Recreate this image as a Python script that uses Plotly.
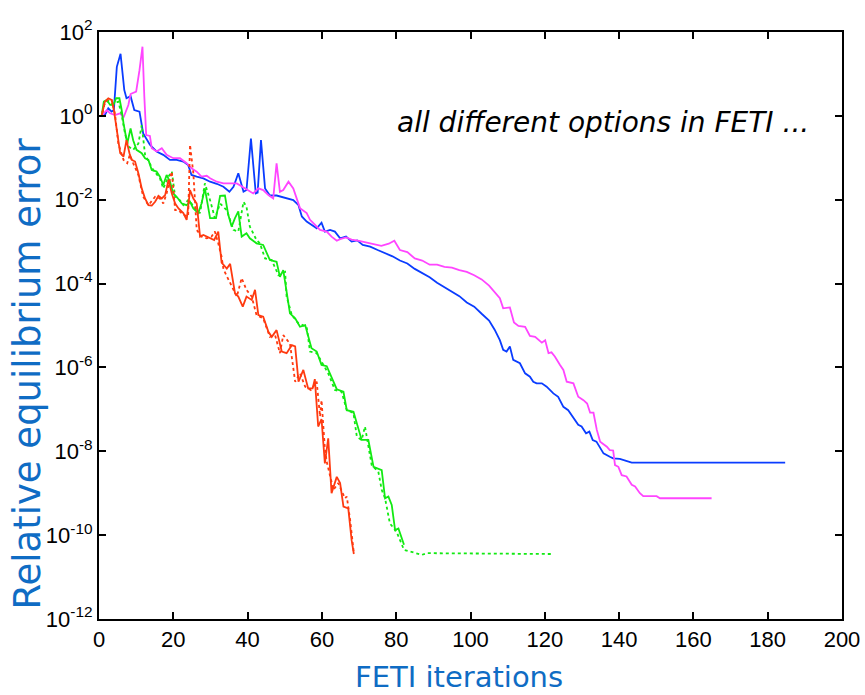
import plotly.graph_objects as go

# FETI convergence histories: iteration number and log10 of the relative equilibrium error
blue_it = [0, 0.7, 1.6, 2.5, 3.4, 4.0, 4.8, 5.8, 6.8, 7.4, 8.5, 9.5, 10.9, 11.9, 13.7, 15.5, 17.3, 19.1,
           20.9, 22.7, 24.0, 24.9, 26.3, 28.1, 29.9, 31.7, 33.5, 35.1, 36.2, 37.5, 38.9, 39.7, 40.9, 42.2,
           42.7, 43.6, 44.7, 46.0, 47.8, 50.5, 52.3, 53.7, 54.6, 55.9, 57.2, 58.6, 59.9, 60.8, 62.2, 63.5,
           64.9, 66.5, 68, 69.5, 71, 73, 75, 77, 79, 81, 83, 85, 87, 89, 91, 93, 95, 97, 99, 101, 103, 105,
           106.5, 107.9, 108.8, 109.7, 110.6, 111.5, 113.3, 114.7, 116.0, 116.9, 117.8, 119.2, 120.5, 121.4,
           122.3, 123.6, 125.0, 126.3, 127.2, 128.1, 129.0, 129.9, 131.1, 132.0, 132.9, 133.9, 134.9, 135.8,
           137.5, 138.4, 140.2, 142.0, 143.4, 184.7]
blue_exp = [0, 0.0, 0.02, 0.18, 0.1, 0.14, 1.17, 1.48, 0.62, 0.42, 0.47, 0.14, 0.10, -0.42, -0.69, -0.85,
            -0.93, -1.05, -1.05, -1.09, -1.17, -1.41, -1.45, -1.49, -1.57, -1.62, -1.69, -1.81, -1.69, -1.37,
            -1.81, -1.77, -0.54, -1.85, -1.83, -0.58, -1.73, -1.90, -1.90, -1.97, -2.01, -2.13, -2.40, -2.52,
            -2.60, -2.68, -2.55, -2.76, -2.72, -2.76, -2.92, -2.88, -3.0, -2.97, -3.08, -3.12, -3.2, -3.28,
            -3.35, -3.45, -3.52, -3.65, -3.75, -3.85, -3.98, -4.08, -4.2, -4.3, -4.45, -4.55, -4.72, -4.88,
            -5.1, -5.35, -5.58, -5.62, -5.50, -5.82, -5.90, -6.14, -6.22, -6.34, -6.38, -6.38, -6.46, -6.54,
            -6.62, -6.70, -6.94, -7.02, -7.13, -7.25, -7.37, -7.41, -7.57, -7.53, -7.73, -7.77, -7.93, -8.05,
            -8.13, -8.17, -8.18, -8.23, -8.27, -8.27]

magenta_it = [0, 0.7, 2.1, 3.0, 4.3, 5.7, 6.6, 7.9, 8.5, 10.0, 10.9, 11.7, 12.2, 12.7, 13.7, 14.2, 15.5,
              16.9, 18.2, 20.0, 21.8, 23.6, 24.9, 26.3, 27.6, 29.0, 29.9, 31.7, 33.5, 35.3, 37.1, 39.7, 41.5,
              42.9, 44.2, 45.6, 46.9, 47.8, 48.7, 49.6, 51.0, 52.3, 54.1, 55.9, 56.8, 57.7, 59.5, 61.3, 62.6,
              64.0, 64.9, 66.5, 68, 70, 72, 74, 76, 78, 79.5, 81, 83, 85, 87, 89, 91, 93, 95, 97, 99, 101,
              103, 105, 106.5, 107.9, 108.8, 110.6, 111.7, 112.9, 114.7, 116.0, 117.4, 119.2, 120.1, 121.0,
              121.8, 122.7, 124.1, 125.0, 125.9, 127.7, 129.0, 130.4, 131.4, 132.2, 133.1, 134.0, 134.9,
              136.7, 137.5, 138.4, 138.9, 139.8, 140.7, 142.0, 143.4, 144.3, 145.6, 146.5, 150.1, 151.0, 164.9]
magenta_exp = [0, 0.0, 0.14, 0.06, 0.02, 0.06, -0.04, 0.26, 0.52, 0.58, 1.09, 1.65, 0.46, -0.46, -0.48,
               -0.77, -0.85, -0.77, -0.93, -1.01, -1.01, -1.13, -1.25, -1.33, -1.45, -1.43, -1.49, -1.57,
               -1.61, -1.61, -1.61, -1.75, -1.85, -1.73, -1.77, -1.89, -1.97, -1.13, -1.81, -1.77, -1.57,
               -1.73, -2.20, -2.32, -2.48, -2.56, -2.72, -2.76, -2.88, -2.98, -2.94, -2.9, -2.95, -2.98,
               -3.02, -3.05, -3.1, -3.05, -2.98, -3.2, -3.25, -3.4, -3.45, -3.55, -3.55, -3.6, -3.62, -3.68,
               -3.72, -3.8, -3.9, -4.05, -4.2, -4.35, -4.59, -4.57, -4.93, -5.01, -5.03, -5.25, -5.27, -5.41,
               -5.35, -5.66, -5.64, -5.74, -5.94, -6.06, -6.34, -6.38, -6.70, -6.78, -6.86, -7.08, -7.08,
               -7.49, -7.77, -7.89, -7.97, -7.98, -8.33, -8.37, -8.57, -8.60, -8.80, -8.84, -9.0, -9.07,
               -9.07, -9.12, -9.12]

green_it = [0, 0.7, 1.3, 2.1, 3.0, 3.9, 4.6, 5.5, 6.1, 6.6, 7.6, 8.5, 9.2, 10.1, 11.5, 12.4, 13.3, 14.2,
            15.5, 16.4, 17.3, 18.2, 19.1, 20.0, 20.9, 22.3, 23.6, 24.5, 25.4, 26.7, 27.6, 28.5, 29.9, 31.5,
            32.6, 33.9, 34.8, 35.7, 36.6, 37.5, 38.4, 39.7, 40.6, 42.4, 44.2, 46.0, 47.8, 48.7, 49.6, 51.4,
            52.8, 54.1, 55.5, 57.2, 58.6, 59.9, 61.3, 62.6, 64.0, 65.8, 66.7, 68.5, 70.7, 72.5, 73.9, 76.1,
            77.0, 77.9, 78.8, 79.7, 80.6, 82.1]
green_exp = [0, 0.0, 0.34, 0.38, 0.26, 0.26, 0.42, 0.42, 0.14, -0.18, -0.66, -0.30, -0.58, -0.81, -0.89,
             -1.01, -1.05, -1.29, -1.33, -1.45, -1.65, -1.41, -1.57, -1.85, -1.93, -2.09, -2.13, -2.05, -2.21,
             -2.32, -2.09, -1.73, -2.44, -2.44, -1.91, -1.90, -2.36, -2.64, -2.44, -2.28, -2.88, -2.80, -2.92,
             -3.04, -3.08, -3.44, -3.48, -3.84, -3.68, -4.71, -4.83, -5.03, -4.99, -5.54, -5.62, -5.94, -5.97,
             -6.22, -6.52, -6.58, -7.02, -7.06, -7.73, -7.73, -8.37, -8.45, -9.12, -9.08, -9.28, -9.88, -9.84,
             -10.23]

green_dot_it = [0, 0.7, 1.5, 2.5, 3.5, 4.3, 5.2, 6.1, 7.0, 7.9, 9.2, 10.6, 11.5, 12.4, 13.3, 14.6, 16.4,
                17.3, 18.7, 19.6, 20.5, 21.4, 22.7, 24.0, 24.9, 26.3, 27.2, 28.5, 29.9, 31.2, 32.6, 34.4,
                36.2, 37.5, 38.9, 39.7, 40.6, 42.4, 43.3, 44.7, 46.5, 48.3, 50.1, 50.5, 51.9, 53.7, 55.9,
                56.8, 58.6, 60.4, 61.7, 63.5, 65.3, 66.7, 68.5, 69.4, 70.7, 71.6, 72.5, 73.4, 75.2, 76.1,
                77.0, 78.3, 80.1, 81.5, 82.1, 83.7, 86.9, 88.2, 121.9]
green_dot_exp = [0, 0.0, 0.3, 0.36, 0.28, 0.3, 0.34, 0.02, -0.42, -0.73, -0.81, -0.66, -0.22, -0.93, -1.09,
                 -1.29, -1.49, -1.73, -1.45, -1.33, -1.93, -1.97, -2.13, -2.01, -2.09, -2.25, -2.32, -1.61,
                 -2.01, -2.44, -2.09, -2.25, -2.72, -2.76, -2.05, -2.17, -2.64, -2.96, -3.04, -3.40, -3.44,
                 -3.80, -3.72, -4.31, -4.75, -4.95, -5.03, -5.62, -5.66, -5.94, -6.14, -6.54, -6.58, -7.02,
                 -7.09, -7.65, -7.73, -7.41, -7.89, -8.33, -8.49, -8.92, -9.12, -9.72, -9.92, -10.23, -10.35,
                 -10.39, -10.47, -10.43, -10.45]

red_it = [0, 0.7, 1.6, 2.5, 3.4, 4.0, 4.8, 5.7, 6.6, 7.4, 8.2, 8.8, 9.7, 10.6, 11.5, 12.4, 13.3, 14.2,
          15.1, 16.0, 16.9, 17.8, 18.7, 19.6, 20.5, 21.4, 22.7, 23.6, 24.5, 25.4, 26.3, 26.7, 27.2, 28.1,
          29.9, 31.0, 32.1, 33.0, 34.4, 35.3, 36.6, 37.5, 38.7, 39.7, 41.1, 42.0, 42.9, 44.2, 45.6, 46.5,
          47.8, 49.2, 50.5, 51.9, 52.8, 53.7, 55.0, 56.3, 57.5, 58.1, 59.0, 59.9, 60.8, 61.7, 62.6, 64.0,
          64.9, 65.8, 67.1, 68.0, 68.6]
red_exp = [0, 0.0, 0.34, 0.42, 0.38, 0.14, -0.34, -0.89, -0.97, -0.58, -0.89, -1.05, -1.09, -1.37, -1.73,
           -1.97, -2.13, -2.14, -2.05, -1.91, -1.97, -1.89, -1.53, -1.85, -2.09, -2.21, -2.32, -2.48, -1.77,
           -1.97, -2.09, -2.40, -2.88, -2.84, -2.92, -2.96, -2.76, -3.5, -3.64, -3.53, -4.23, -4.31, -4.55,
           -4.31, -4.39, -4.15, -4.75, -4.79, -5.15, -5.27, -5.11, -5.62, -5.66, -5.47, -5.50, -6.34, -6.06,
           -6.50, -6.50, -6.28, -7.41, -7.23, -8.29, -7.69, -9.0, -8.61, -8.76, -9.32, -9.36, -10.12, -10.45]

red_dot_it = [0, 0.7, 1.6, 2.5, 3.4, 4.3, 5.2, 6.6, 7.6, 8.3, 9.2, 10.6, 11.9, 13.3, 15.1, 16.4, 17.3,
              18.2, 19.6, 20.5, 21.4, 22.7, 24.0, 24.5, 25.4, 26.3, 27.6, 29.0, 30.3, 31.2, 32.1, 33.0,
              33.5, 37.1, 38.4, 39.7, 41.1, 42.4, 44.2, 46.0, 47.4, 48.7, 49.6, 51.4, 52.8, 54.1, 55.5,
              57.0, 58.6, 59.5, 59.9, 60.8, 61.3, 63.1, 64.4, 66.2, 66.7, 67.6, 68.6]
red_dot_exp = [0, 0.0, 0.32, 0.4, 0.38, 0.05, -0.66, -1.05, -1.13, -0.93, -1.13, -1.41, -1.93, -2.13,
               -1.93, -1.97, -2.09, -1.85, -1.33, -2.25, -2.25, -2.36, -2.40, -0.69, -1.37, -2.72, -2.88,
               -2.92, -2.88, -2.76, -3.04, -3.36, -3.66, -4.31, -3.87, -4.15, -4.31, -4.75, -4.83, -5.27,
               -5.23, -5.66, -5.23, -5.43, -6.34, -6.14, -6.46, -6.54, -6.34, -7.17, -6.78, -7.93, -8.25,
               -8.92, -8.76, -9.12, -9.08, -9.64, -10.43]

# a further run whose plateau only shows at the right edge of the frame
edge_it = [200.4]
edge_exp = [-9.29]

y_tick_exps = list(range(-12, 3, 2))
x_ticks = list(range(0, 201, 20))

BLUE = "#0a3cff"
MAGENTA = "#ff45ff"
GREEN = "#12ea12"
RED = "#ff3a10"
TITLE_BLUE = "#0f6cc4"


def pw(exps):
    return [10 ** e for e in exps]


fig = go.Figure()
series = [
    (blue_it, blue_exp, BLUE, "solid"),
    (magenta_it, magenta_exp, MAGENTA, "solid"),
    (green_dot_it, green_dot_exp, GREEN, "dot"),
    (green_it, green_exp, GREEN, "solid"),
    (red_dot_it, red_dot_exp, RED, "dot"),
    (red_it, red_exp, RED, "solid"),
]
for xs, es, col, dash in series:
    fig.add_trace(go.Scatter(x=xs, y=pw(es), mode="lines",
                             line=dict(color=col, width=1.8, dash=dash),
                             showlegend=False, hoverinfo="skip"))

fig.add_trace(go.Scatter(x=edge_it, y=pw(edge_exp), mode="markers", cliponaxis=False,
                         marker=dict(symbol="line-ew", size=10, line=dict(color=BLUE, width=2)),
                         showlegend=False, hoverinfo="skip"))

tick_font = dict(family="Liberation Sans, Arial, sans-serif", size=22, color="black")

fig.update_xaxes(range=[0, 200], tickvals=x_ticks, ticktext=[str(v) for v in x_ticks],
                 showline=True, linecolor="black", linewidth=2, mirror="ticks",
                 ticks="inside", ticklen=7, tickwidth=1.5, tickcolor="black",
                 showgrid=False, zeroline=False, tickfont=tick_font, automargin=False)
fig.update_yaxes(type="log", range=[-12, 2], tickvals=[10 ** e for e in y_tick_exps],
                 ticktext=[f"10<sup>{e}</sup>" for e in y_tick_exps],
                 showline=True, linecolor="black", linewidth=2, mirror="ticks",
                 ticks="inside", ticklen=7, tickwidth=1.5, tickcolor="black",
                 showgrid=False, zeroline=False, tickfont=tick_font, automargin=False)

fig.add_annotation(text="FETI iterations", xref="paper", yref="paper", x=0.484, y=-0.099,
                   xanchor="center", yanchor="middle", showarrow=False,
                   font=dict(family="DejaVu Sans, sans-serif", size=29, color=TITLE_BLUE))
fig.add_annotation(text="Relative equilibrium error", xref="paper", yref="paper",
                   x=-0.0956, y=0.418, xanchor="center", yanchor="middle", textangle=-90,
                   showarrow=False,
                   font=dict(family="DejaVu Sans, sans-serif", size=37, color=TITLE_BLUE))
fig.add_annotation(text="<i>all different options in FETI ...</i>", xref="paper", yref="paper",
                   x=0.679, y=0.845, xanchor="center", yanchor="middle", showarrow=False,
                   font=dict(family="DejaVu Sans, sans-serif", size=28, color="black"))

fig.update_layout(width=865, height=695, margin=dict(l=99, r=23, t=32, b=76, autoexpand=False),
                  paper_bgcolor="white", plot_bgcolor="white")

fig.write_html("out.html")
